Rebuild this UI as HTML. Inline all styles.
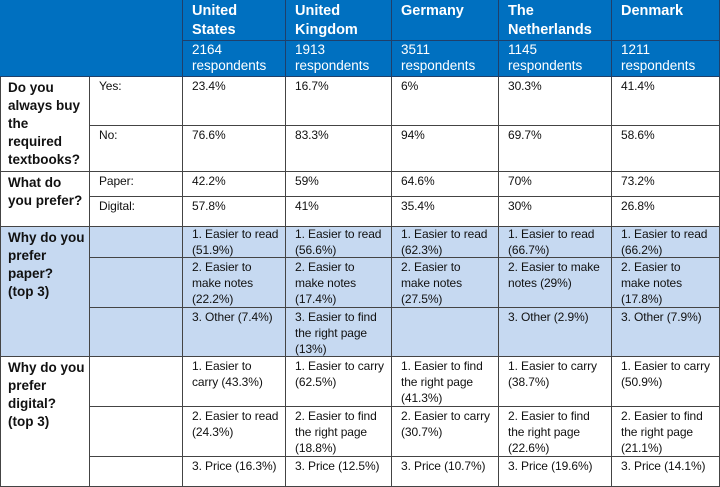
<!DOCTYPE html>
<html><head><meta charset="utf-8"><style>
body{margin:0;width:720px;height:475px;overflow:hidden;background:#fff;font-family:"Liberation Sans",sans-serif;}
.c{position:absolute;box-sizing:border-box;border-right:1px solid #444;border-bottom:1px solid #444;padding:1px 5px 0 9px;font-size:12px;letter-spacing:-0.1px;line-height:16px;color:#111}
.h{background:#0070c0;color:#fff;border-color:#1f3f6a}
.hb{font-weight:bold;font-size:14.5px;line-height:18.5px;padding-top:2px;letter-spacing:0}
.q{font-weight:bold;font-size:13.5px;line-height:18px;padding:2px 0 0 7px;letter-spacing:0;white-space:nowrap}
.b{background:#c6d9f1}
</style></head><body>
<div class="c h" style="left:0;top:0;width:183px;height:77px"></div>
<div class="c h hb" style="left:183px;top:0;width:103px;height:41px">United<br>States</div>
<div class="c h hb" style="left:286px;top:0;width:106px;height:41px">United<br>Kingdom</div>
<div class="c h hb" style="left:392px;top:0;width:107px;height:41px">Germany</div>
<div class="c h hb" style="left:499px;top:0;width:113px;height:41px">The<br>Netherlands</div>
<div class="c h hb" style="left:612px;top:0;width:108px;height:41px">Denmark</div>
<div class="c h" style="left:183px;top:41px;width:103px;height:36px;font-size:13.5px;letter-spacing:0">2164<br>respondents</div>
<div class="c h" style="left:286px;top:41px;width:106px;height:36px;font-size:13.5px;letter-spacing:0">1913<br>respondents</div>
<div class="c h" style="left:392px;top:41px;width:107px;height:36px;font-size:13.5px;letter-spacing:0">3511<br>respondents</div>
<div class="c h" style="left:499px;top:41px;width:113px;height:36px;font-size:13.5px;letter-spacing:0">1145<br>respondents</div>
<div class="c h" style="left:612px;top:41px;width:108px;height:36px;font-size:13.5px;letter-spacing:0">1211<br>respondents</div>

<div class="c q" style="left:0;top:77px;width:90px;height:95px;border-left:1px solid #444">Do you<br>always buy<br>the<br>required<br>textbooks?</div>
<div class="c" style="left:90px;top:77px;width:93px;height:49px">Yes:</div>
<div class="c" style="left:183px;top:77px;width:103px;height:49px">23.4%</div>
<div class="c" style="left:286px;top:77px;width:106px;height:49px">16.7%</div>
<div class="c" style="left:392px;top:77px;width:107px;height:49px">6%</div>
<div class="c" style="left:499px;top:77px;width:113px;height:49px">30.3%</div>
<div class="c" style="left:612px;top:77px;width:108px;height:49px">41.4%</div>
<div class="c" style="left:90px;top:126px;width:93px;height:46px">No:</div>
<div class="c" style="left:183px;top:126px;width:103px;height:46px">76.6%</div>
<div class="c" style="left:286px;top:126px;width:106px;height:46px">83.3%</div>
<div class="c" style="left:392px;top:126px;width:107px;height:46px">94%</div>
<div class="c" style="left:499px;top:126px;width:113px;height:46px">69.7%</div>
<div class="c" style="left:612px;top:126px;width:108px;height:46px">58.6%</div>

<div class="c q" style="left:0;top:172px;width:90px;height:55px;border-left:1px solid #444">What do<br>you prefer?</div>
<div class="c" style="left:90px;top:172px;width:93px;height:25px">Paper:</div>
<div class="c" style="left:183px;top:172px;width:103px;height:25px">42.2%</div>
<div class="c" style="left:286px;top:172px;width:106px;height:25px">59%</div>
<div class="c" style="left:392px;top:172px;width:107px;height:25px">64.6%</div>
<div class="c" style="left:499px;top:172px;width:113px;height:25px">70%</div>
<div class="c" style="left:612px;top:172px;width:108px;height:25px">73.2%</div>
<div class="c" style="left:90px;top:197px;width:93px;height:30px">Digital:</div>
<div class="c" style="left:183px;top:197px;width:103px;height:30px">57.8%</div>
<div class="c" style="left:286px;top:197px;width:106px;height:30px">41%</div>
<div class="c" style="left:392px;top:197px;width:107px;height:30px">35.4%</div>
<div class="c" style="left:499px;top:197px;width:113px;height:30px">30%</div>
<div class="c" style="left:612px;top:197px;width:108px;height:30px">26.8%</div>

<div class="c q b" style="left:0;top:227px;width:90px;height:130px;border-left:1px solid #444">Why do you<br>prefer<br>paper?<br>(top 3)</div>
<div class="c b" style="left:90px;top:227px;width:93px;height:31px"></div>
<div class="c b" style="left:183px;top:227px;width:103px;height:31px;padding-top:0;line-height:15.5px">1. Easier to read (51.9%)</div>
<div class="c b" style="left:286px;top:227px;width:106px;height:31px;padding-top:0;line-height:15.5px">1. Easier to read (56.6%)</div>
<div class="c b" style="left:392px;top:227px;width:107px;height:31px;padding-top:0;line-height:15.5px">1. Easier to read (62.3%)</div>
<div class="c b" style="left:499px;top:227px;width:113px;height:31px;padding-top:0;line-height:15.5px">1. Easier to read (66.7%)</div>
<div class="c b" style="left:612px;top:227px;width:108px;height:31px;padding-top:0;line-height:15.5px">1. Easier to read (66.2%)</div>
<div class="c b" style="left:90px;top:258px;width:93px;height:50px"></div>
<div class="c b" style="left:183px;top:258px;width:103px;height:50px">2. Easier to make notes (22.2%)</div>
<div class="c b" style="left:286px;top:258px;width:106px;height:50px">2. Easier to make notes (17.4%)</div>
<div class="c b" style="left:392px;top:258px;width:107px;height:50px">2. Easier to<br>make notes (27.5%)</div>
<div class="c b" style="left:499px;top:258px;width:113px;height:50px">2. Easier to make<br>notes (29%)</div>
<div class="c b" style="left:612px;top:258px;width:108px;height:50px">2. Easier to<br>make notes (17.8%)</div>
<div class="c b" style="left:90px;top:308px;width:93px;height:49px"></div>
<div class="c b" style="left:183px;top:308px;width:103px;height:49px">3. Other (7.4%)</div>
<div class="c b" style="left:286px;top:308px;width:106px;height:49px">3. Easier to find the right page (13%)</div>
<div class="c b" style="left:392px;top:308px;width:107px;height:49px"></div>
<div class="c b" style="left:499px;top:308px;width:113px;height:49px">3. Other (2.9%)</div>
<div class="c b" style="left:612px;top:308px;width:108px;height:49px">3. Other (7.9%)</div>

<div class="c q" style="left:0;top:357px;width:90px;height:130px;border-left:1px solid #444">Why do you<br>prefer<br>digital?<br>(top 3)</div>
<div class="c" style="left:90px;top:357px;width:93px;height:50px"></div>
<div class="c" style="left:183px;top:357px;width:103px;height:50px">1. Easier to carry (43.3%)</div>
<div class="c" style="left:286px;top:357px;width:106px;height:50px">1. Easier to carry (62.5%)</div>
<div class="c" style="left:392px;top:357px;width:107px;height:50px">1. Easier to find the right page (41.3%)</div>
<div class="c" style="left:499px;top:357px;width:113px;height:50px">1. Easier to carry (38.7%)</div>
<div class="c" style="left:612px;top:357px;width:108px;height:50px">1. Easier to carry (50.9%)</div>
<div class="c" style="left:90px;top:407px;width:93px;height:50px"></div>
<div class="c" style="left:183px;top:407px;width:103px;height:50px">2. Easier to read (24.3%)</div>
<div class="c" style="left:286px;top:407px;width:106px;height:50px">2. Easier to find the right page (18.8%)</div>
<div class="c" style="left:392px;top:407px;width:107px;height:50px">2. Easier to carry (30.7%)</div>
<div class="c" style="left:499px;top:407px;width:113px;height:50px">2. Easier to find the right page (22.6%)</div>
<div class="c" style="left:612px;top:407px;width:108px;height:50px">2. Easier to find the right page (21.1%)</div>
<div class="c" style="left:90px;top:457px;width:93px;height:30px"></div>
<div class="c" style="left:183px;top:457px;width:103px;height:30px">3. Price (16.3%)</div>
<div class="c" style="left:286px;top:457px;width:106px;height:30px">3. Price (12.5%)</div>
<div class="c" style="left:392px;top:457px;width:107px;height:30px">3. Price (10.7%)</div>
<div class="c" style="left:499px;top:457px;width:113px;height:30px">3. Price (19.6%)</div>
<div class="c" style="left:612px;top:457px;width:108px;height:30px">3. Price (14.1%)</div>
</body></html>
